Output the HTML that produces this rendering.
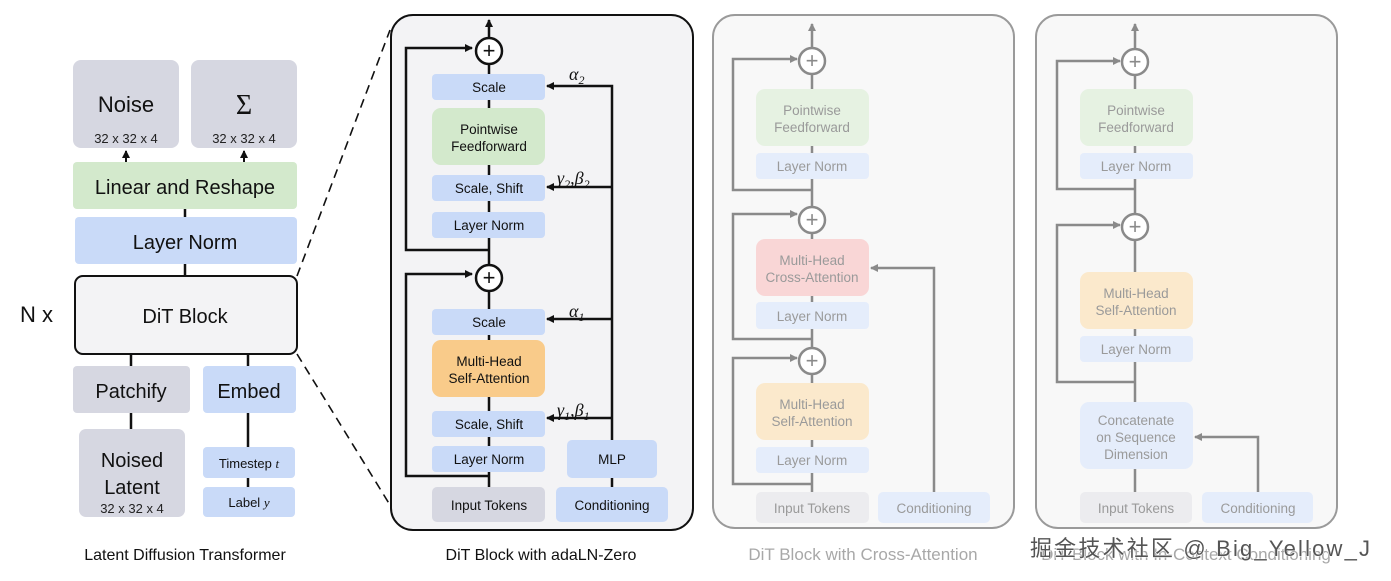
<!DOCTYPE html>
<html><head><meta charset="utf-8"><style>
html,body{margin:0;padding:0;background:#fff;}
svg{display:block;font-family:"Liberation Sans","Noto Sans CJK SC",sans-serif;}
</style></head><body>
<svg width="1391" height="581" viewBox="0 0 1391 581" xmlns="http://www.w3.org/2000/svg">
<defs>
<marker id="ab" markerWidth="8" markerHeight="8" refX="7" refY="4" orient="auto" markerUnits="userSpaceOnUse"><path d="M0,0 L8,4 L0,8 z" fill="#111"/></marker>
<marker id="ag" markerWidth="8" markerHeight="8" refX="7" refY="4" orient="auto" markerUnits="userSpaceOnUse"><path d="M0,0 L8,4 L0,8 z" fill="#8a8a8a"/></marker>
</defs>

<!-- LEFT PANEL -->
<g fill="none" stroke="#111" stroke-width="2.5">
<line x1="126" y1="162" x2="126" y2="151" marker-end="url(#ab)" stroke-width="2"/>
<line x1="244" y1="162" x2="244" y2="151" marker-end="url(#ab)" stroke-width="2"/>
<line x1="185" y1="209" x2="185" y2="217"/>
<line x1="185" y1="264" x2="185" y2="276"/>
<line x1="131" y1="354" x2="131" y2="366"/>
<line x1="248" y1="354" x2="248" y2="366"/>
<line x1="131" y1="413" x2="131" y2="429"/>
<line x1="248" y1="413" x2="248" y2="447"/>
<line x1="248" y1="478" x2="248" y2="487"/>
</g>
<rect x="73" y="60" width="106" height="88" rx="8" fill="#d6d7e1"/>
<rect x="191" y="60" width="106" height="88" rx="8" fill="#d6d7e1"/>
<text x="126" y="112" font-size="22" text-anchor="middle" fill="#111">Noise</text>
<text x="244" y="114" font-size="28" text-anchor="middle" fill="#111" font-family="Liberation Serif">Σ</text>
<text x="126" y="143" font-size="13" text-anchor="middle" fill="#222">32 x 32 x 4</text>
<text x="244" y="143" font-size="13" text-anchor="middle" fill="#222">32 x 32 x 4</text>
<rect x="73" y="162" width="224" height="47" rx="4" fill="#d3e9cc"/>
<text x="185" y="194" font-size="20" text-anchor="middle" fill="#111">Linear and Reshape</text>
<rect x="75" y="217" width="222" height="47" rx="4" fill="#c9daf8"/>
<text x="185" y="249" font-size="20" text-anchor="middle" fill="#111">Layer Norm</text>
<rect x="75" y="276" width="222" height="78" rx="8" fill="#f3f3f5" stroke="#111" stroke-width="2"/>
<text x="185" y="323" font-size="20" text-anchor="middle" fill="#111">DiT Block</text>
<text x="20" y="322" font-size="22" fill="#111">N x</text>
<rect x="73" y="366" width="117" height="47" rx="4" fill="#d6d7e1"/>
<text x="131" y="398" font-size="20" text-anchor="middle" fill="#111">Patchify</text>
<rect x="203" y="366" width="93" height="47" rx="4" fill="#c9daf8"/>
<text x="249" y="398" font-size="20" text-anchor="middle" fill="#111">Embed</text>
<rect x="79" y="429" width="106" height="88" rx="7" fill="#d6d7e1"/>
<text x="132" y="467" font-size="20" text-anchor="middle" fill="#111">Noised</text>
<text x="132" y="494" font-size="20" text-anchor="middle" fill="#111">Latent</text>
<text x="132" y="513" font-size="13" text-anchor="middle" fill="#222">32 x 32 x 4</text>
<rect x="203" y="447" width="92" height="31" rx="4" fill="#c9daf8"/>
<text x="249" y="468" font-size="13" text-anchor="middle" fill="#111">Timestep <tspan font-family="Liberation Serif" font-style="italic">t</tspan></text>
<rect x="203" y="487" width="92" height="30" rx="4" fill="#c9daf8"/>
<text x="249" y="507" font-size="13" text-anchor="middle" fill="#111">Label <tspan font-family="Liberation Serif" font-style="italic">y</tspan></text>
<text x="185" y="560" font-size="16" text-anchor="middle" fill="#111">Latent Diffusion Transformer</text>
<line x1="297" y1="276" x2="390" y2="30" stroke="#111" stroke-width="1.6" stroke-dasharray="9,6"/>
<line x1="297" y1="354" x2="390" y2="505" stroke="#111" stroke-width="1.6" stroke-dasharray="9,6"/>

<!-- MIDDLE PANEL -->
<rect x="391" y="15" width="302" height="515" rx="22" fill="#f3f3f5" stroke="#111" stroke-width="2"/>
<g fill="none" stroke="#111" stroke-width="2.5">
<line x1="489" y1="38" x2="489" y2="20" marker-end="url(#ab)"/>
<line x1="489" y1="64" x2="489" y2="266"/>
<line x1="489" y1="291" x2="489" y2="487"/>
<polyline points="489,250 406,250 406,48 472,48" marker-end="url(#ab)"/>
<polyline points="489,476 406,476 406,274 472,274" marker-end="url(#ab)"/>
<polyline points="612,487 612,86 547,86" marker-end="url(#ab)"/>
<line x1="612" y1="187" x2="547" y2="187" marker-end="url(#ab)"/>
<line x1="612" y1="319" x2="547" y2="319" marker-end="url(#ab)"/>
<line x1="612" y1="418" x2="547" y2="418" marker-end="url(#ab)"/>
</g>
<circle cx="489" cy="51" r="13" fill="#fff" stroke="#111" stroke-width="2.5"/>
<text x="489" y="58" font-size="22" text-anchor="middle" fill="#111">+</text>
<circle cx="489" cy="278" r="13" fill="#fff" stroke="#111" stroke-width="2.5"/>
<text x="489" y="285" font-size="22" text-anchor="middle" fill="#111">+</text>
<g fill="#c9daf8">
<rect x="432" y="74" width="113" height="26" rx="4"/>
<rect x="432" y="175" width="113" height="26" rx="4"/>
<rect x="432" y="212" width="113" height="26" rx="4"/>
<rect x="432" y="309" width="113" height="26" rx="4"/>
<rect x="432" y="411" width="113" height="26" rx="4"/>
<rect x="432" y="446" width="113" height="26" rx="4"/>
<rect x="567" y="440" width="90" height="38" rx="5"/>
<rect x="556" y="487" width="112" height="35" rx="5"/>
</g>
<rect x="432" y="108" width="113" height="57" rx="9" fill="#d3e9cc"/>
<rect x="432" y="340" width="113" height="57" rx="9" fill="#f9cb8a"/>
<rect x="432" y="487" width="113" height="35" rx="5" fill="#d6d7e1"/>
<g font-size="13.5" text-anchor="middle" fill="#111">
<text x="489" y="92">Scale</text>
<text x="489" y="134">Pointwise</text>
<text x="489" y="151">Feedforward</text>
<text x="489" y="193">Scale, Shift</text>
<text x="489" y="230">Layer Norm</text>
<text x="489" y="327">Scale</text>
<text x="489" y="366">Multi-Head</text>
<text x="489" y="383">Self-Attention</text>
<text x="489" y="429">Scale, Shift</text>
<text x="489" y="464">Layer Norm</text>
<text x="612" y="464">MLP</text>
<text x="489" y="510">Input Tokens</text>
<text x="612" y="510">Conditioning</text>
</g>
<g font-family="Liberation Serif" font-style="italic" font-size="18" fill="#111">
<text x="569" y="80">α<tspan font-size="12" dy="4">2</tspan></text>
<text x="557" y="184">γ<tspan font-size="12" dy="4">2</tspan><tspan dy="-4">,β</tspan><tspan font-size="12" dy="4">2</tspan></text>
<text x="569" y="317">α<tspan font-size="12" dy="4">1</tspan></text>
<text x="557" y="416">γ<tspan font-size="12" dy="4">1</tspan><tspan dy="-4">,β</tspan><tspan font-size="12" dy="4">1</tspan></text>
</g>
<text x="541" y="560" font-size="16" text-anchor="middle" fill="#111">DiT Block with adaLN-Zero</text>

<!-- CROSS-ATTENTION PANEL -->
<rect x="713" y="15" width="301" height="513" rx="22" fill="#f8f8f8" stroke="#9a9a9a" stroke-width="2"/>
<g fill="none" stroke="#8a8a8a" stroke-width="2.5">
<line x1="812" y1="48" x2="812" y2="24" marker-end="url(#ag)"/>
<line x1="812" y1="73" x2="812" y2="207"/>
<line x1="812" y1="232" x2="812" y2="348"/>
<line x1="812" y1="373" x2="812" y2="492"/>
<polyline points="812,190 733,190 733,59 797,59" marker-end="url(#ag)"/>
<polyline points="812,339 733,339 733,214 797,214" marker-end="url(#ag)"/>
<polyline points="812,484 733,484 733,358 797,358" marker-end="url(#ag)"/>
<polyline points="934,492 934,268 871,268" marker-end="url(#ag)"/>
</g>
<circle cx="812" cy="61" r="13" fill="#fff" stroke="#8a8a8a" stroke-width="2.5"/>
<text x="812" y="68" font-size="22" text-anchor="middle" fill="#8a8a8a">+</text>
<circle cx="812" cy="220" r="13" fill="#fff" stroke="#8a8a8a" stroke-width="2.5"/>
<text x="812" y="227" font-size="22" text-anchor="middle" fill="#8a8a8a">+</text>
<circle cx="812" cy="361" r="13" fill="#fff" stroke="#8a8a8a" stroke-width="2.5"/>
<text x="812" y="368" font-size="22" text-anchor="middle" fill="#8a8a8a">+</text>
<rect x="756" y="89" width="113" height="57" rx="9" fill="#e6f2e2"/>
<rect x="756" y="153" width="113" height="26" rx="4" fill="#e5edfb"/>
<rect x="756" y="239" width="113" height="57" rx="9" fill="#f9d6d6"/>
<rect x="756" y="302" width="113" height="27" rx="4" fill="#e5edfb"/>
<rect x="756" y="383" width="113" height="57" rx="9" fill="#fbe9cc"/>
<rect x="756" y="447" width="113" height="26" rx="4" fill="#e5edfb"/>
<rect x="756" y="492" width="113" height="31" rx="5" fill="#ececef"/>
<rect x="878" y="492" width="112" height="31" rx="5" fill="#e5edfb"/>
<g font-size="13.5" text-anchor="middle" fill="#9a9a9a">
<text x="812" y="115">Pointwise</text>
<text x="812" y="132">Feedforward</text>
<text x="812" y="171">Layer Norm</text>
<text x="812" y="265">Multi-Head</text>
<text x="812" y="282">Cross-Attention</text>
<text x="812" y="321">Layer Norm</text>
<text x="812" y="409">Multi-Head</text>
<text x="812" y="426">Self-Attention</text>
<text x="812" y="465">Layer Norm</text>
<text x="812" y="513">Input Tokens</text>
<text x="934" y="513">Conditioning</text>
</g>
<text x="863" y="560" font-size="17" text-anchor="middle" fill="#a8a8a8">DiT Block with Cross-Attention</text>

<!-- IN-CONTEXT PANEL -->
<rect x="1036" y="15" width="301" height="513" rx="22" fill="#f8f8f8" stroke="#9a9a9a" stroke-width="2"/>
<g fill="none" stroke="#8a8a8a" stroke-width="2.5">
<line x1="1135" y1="49" x2="1135" y2="24" marker-end="url(#ag)"/>
<line x1="1135" y1="75" x2="1135" y2="214"/>
<line x1="1135" y1="240" x2="1135" y2="492"/>
<polyline points="1135,189 1057,189 1057,61 1120,61" marker-end="url(#ag)"/>
<polyline points="1135,382 1057,382 1057,225 1120,225" marker-end="url(#ag)"/>
<polyline points="1258,492 1258,437 1195,437" marker-end="url(#ag)"/>
</g>
<circle cx="1135" cy="62" r="13" fill="#fff" stroke="#8a8a8a" stroke-width="2.5"/>
<text x="1135" y="69" font-size="22" text-anchor="middle" fill="#8a8a8a">+</text>
<circle cx="1135" cy="227" r="13" fill="#fff" stroke="#8a8a8a" stroke-width="2.5"/>
<text x="1135" y="234" font-size="22" text-anchor="middle" fill="#8a8a8a">+</text>
<rect x="1080" y="89" width="113" height="57" rx="9" fill="#e6f2e2"/>
<rect x="1080" y="153" width="113" height="26" rx="4" fill="#e5edfb"/>
<rect x="1080" y="272" width="113" height="57" rx="9" fill="#fbe9cc"/>
<rect x="1080" y="336" width="113" height="26" rx="4" fill="#e5edfb"/>
<rect x="1080" y="402" width="113" height="67" rx="9" fill="#e5edfb"/>
<rect x="1080" y="492" width="112" height="31" rx="5" fill="#ececef"/>
<rect x="1202" y="492" width="111" height="31" rx="5" fill="#e5edfb"/>
<g font-size="13.5" text-anchor="middle" fill="#9a9a9a">
<text x="1136" y="115">Pointwise</text>
<text x="1136" y="132">Feedforward</text>
<text x="1136" y="171">Layer Norm</text>
<text x="1136" y="298">Multi-Head</text>
<text x="1136" y="315">Self-Attention</text>
<text x="1136" y="354">Layer Norm</text>
<text x="1136" y="425">Concatenate</text>
<text x="1136" y="442">on Sequence</text>
<text x="1136" y="459">Dimension</text>
<text x="1136" y="513">Input Tokens</text>
<text x="1258" y="513">Conditioning</text>
</g>
<text x="1186" y="560" font-size="17" text-anchor="middle" fill="#a8a8a8">DiT Block with In-Context Conditioning</text>
<text x="1030" y="556" font-size="22" fill="#555" stroke="#fff" stroke-width="1" paint-order="stroke" textLength="340">掘金技术社区 @ Big_Yellow_J</text>
</svg>
</body></html>
